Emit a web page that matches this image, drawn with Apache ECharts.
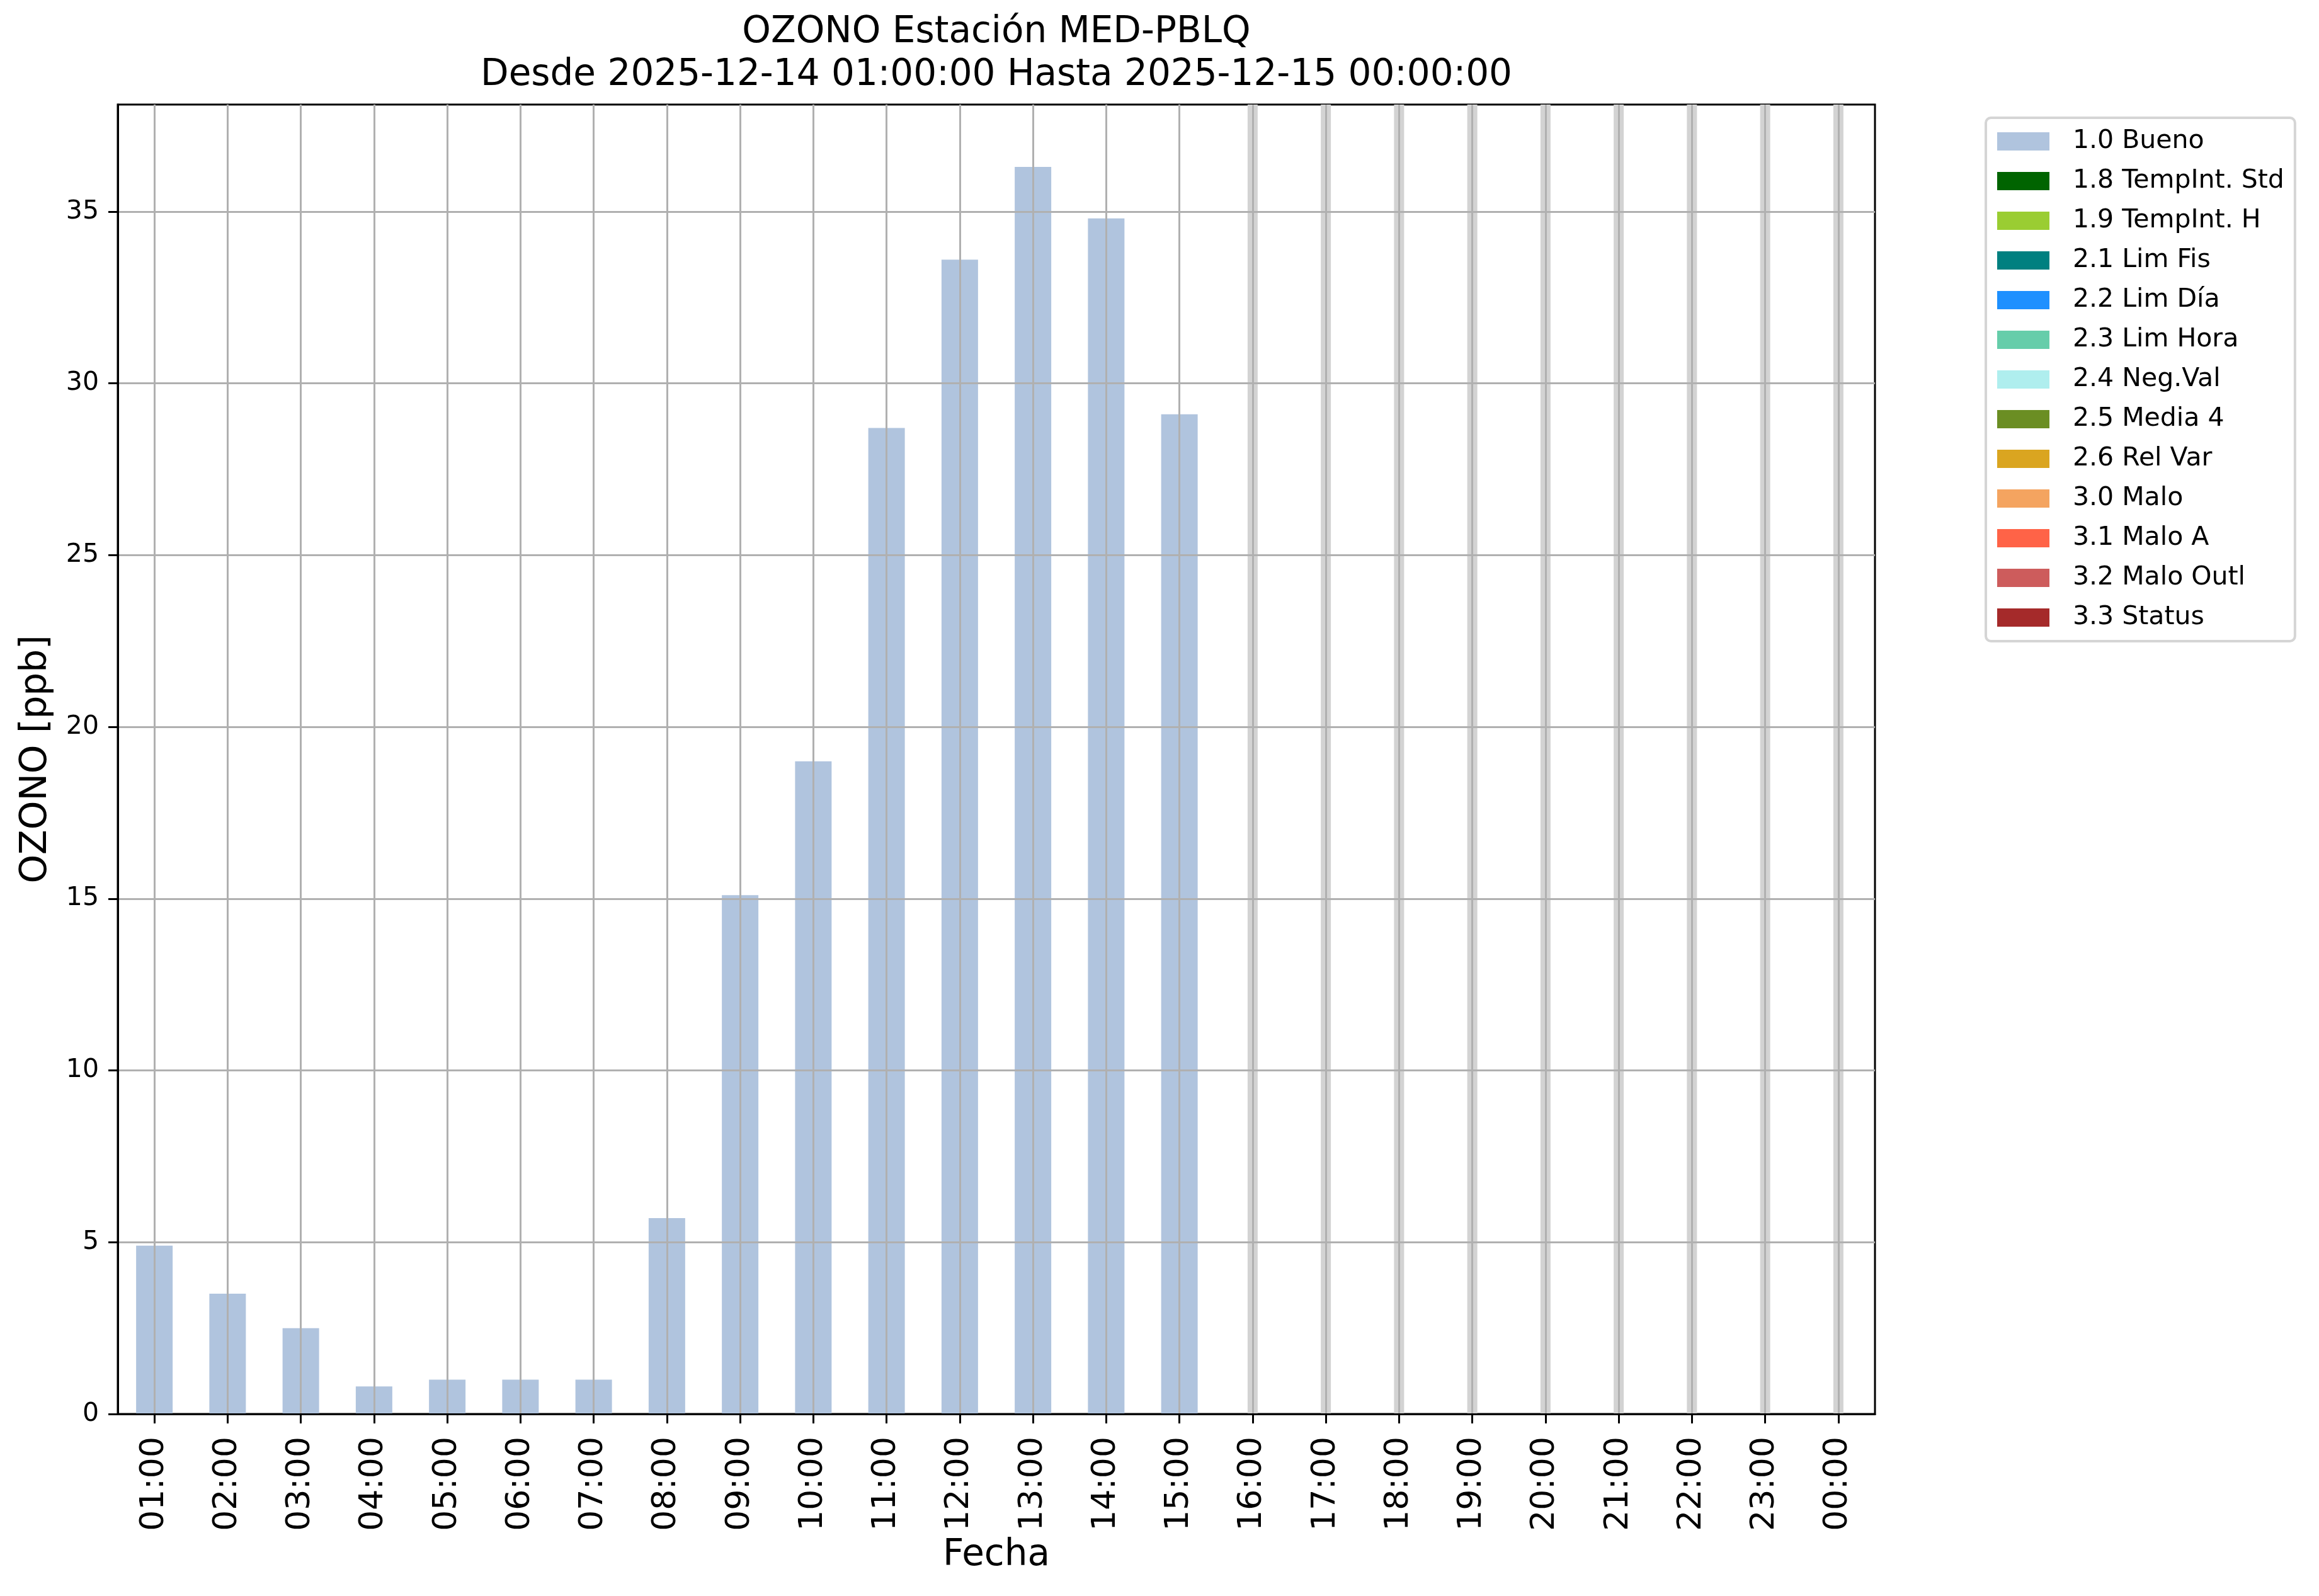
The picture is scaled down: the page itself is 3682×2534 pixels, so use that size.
<!DOCTYPE html>
<html><head><meta charset="utf-8">
<script src="https://cdn.jsdelivr.net/npm/echarts@6/dist/echarts.min.js"></script>
<style>html,body{margin:0;padding:0;background:#fff}#c{width:3682px;height:2534px}</style>
</head><body><div id="c"></div>
<script>
const hours = ['01:00','02:00','03:00','04:00','05:00','06:00','07:00','08:00','09:00','10:00','11:00','12:00',
  '13:00','14:00','15:00','16:00','17:00','18:00','19:00','20:00','21:00','22:00','23:00','00:00'];
const ozono = [4.9,3.5,2.5,0.8,1.0,1.0,1.0,5.7,15.1,19.0,28.7,33.6,36.3,34.8,29.1,
  null,null,null,null,null,null,null,null,null];
const yTicks = [0,5,10,15,20,25,30,35];
const flagNames = ['1.0 Bueno','1.8 TempInt. Std','1.9 TempInt. H','2.1 Lim Fis','2.2 Lim Día','2.3 Lim Hora',
  '2.4 Neg.Val','2.5 Media 4','2.6 Rel Var','3.0 Malo','3.1 Malo A','3.2 Malo Outl','3.3 Status'];
const flagColors = ['#b0c4de','#006400','#9acd32','#008080','#1e90ff','#66cdaa','#afeeee','#6b8e23',
  '#daa520','#f4a460','#ff6347','#cd5c5c','#a52a2a'];
const titleText = 'OZONO Estación MED-PBLQ\nDesde 2025-12-14 01:00:00 Hasta 2025-12-15 00:00:00';

const yMax = 38.115;
const FONT = 'DejaVu Sans';

const series = flagNames.map((name, i) => ({
  name, type: 'bar', stack: 'q', xAxisIndex: 0, barWidth: 58,
  itemStyle: {color: flagColors[i]},
  data: i === 0 ? ozono : [],
  z: 2
}));
series.push({
  name: 'missing', type: 'bar', xAxisIndex: 1, barWidth: 16,
  itemStyle: {color: '#d3d3d3'},
  data: ozono.map(v => v == null ? yMax : null),
  z: 1
});

const chart = echarts.init(document.getElementById('c'), null, {renderer: 'canvas'});
chart.setOption({
  animation: false,
  backgroundColor: '#fff',
  textStyle: {fontFamily: FONT},
  title: {
    text: titleText, left: 1582, top: 18, textAlign: 'center', padding: 0,
    textStyle: {fontSize: 58, fontWeight: 'normal', lineHeight: 68, color: '#000', fontFamily: FONT}
  },
  legend: {
    data: flagNames, orient: 'vertical', left: 3153, top: 187,
    itemWidth: 83, itemHeight: 29, itemGap: 20, padding: [16, 17, 16, 18],
    borderColor: '#d5d5d5', borderWidth: 4, borderRadius: 8, backgroundColor: '#fff',
    icon: 'rect', selectedMode: false,
    textStyle: {fontSize: 41, lineHeight: 43, color: '#000', fontFamily: FONT, padding: [0, 0, 0, 32]}
  },
  grid: {left: 187, right: 705, top: 166, bottom: 289, show: true, borderColor: '#000', borderWidth: 3,
    backgroundColor: 'transparent'},
  xAxis: [{
    type: 'category', data: hours, boundaryGap: true, z: 3,
    axisLine: {show: true, lineStyle: {color: '#000', width: 3}},
    axisTick: {show: true, alignWithLabel: true, length: 15, lineStyle: {color: '#000', width: 3}},
    axisLabel: {rotate: 90, fontSize: 52, color: '#000', margin: 36, interval: 0, fontFamily: FONT},
    splitLine: {show: true, alignWithLabel: true, interval: 0, lineStyle: {color: '#b0b0b0', width: 3}},
    name: 'Fecha', nameLocation: 'middle', nameGap: 196,
    nameTextStyle: {fontSize: 58, color: '#000', fontFamily: FONT}
  }, {
    type: 'category', data: hours, boundaryGap: true, show: false,
    axisLine: {show: false}, axisTick: {show: false}, axisLabel: {show: false}, splitLine: {show: false}
  }],
  yAxis: {
    type: 'value', min: 0, max: yMax, interval: 5, z: 3,
    axisLine: {show: true, onZero: false, lineStyle: {color: '#000', width: 3}},
    axisTick: {show: true, length: 15, lineStyle: {color: '#000', width: 3}, customValues: yTicks},
    axisLabel: {customValues: yTicks, fontSize: 41, color: '#000', margin: 30, fontFamily: FONT},
    splitLine: {show: true, lineStyle: {color: '#b0b0b0', width: 3}},
    name: 'OZONO [ppb]', nameLocation: 'middle', nameGap: 100,
    nameTextStyle: {fontSize: 58, color: '#000', fontFamily: FONT}
  },
  series
});
</script></body></html>
